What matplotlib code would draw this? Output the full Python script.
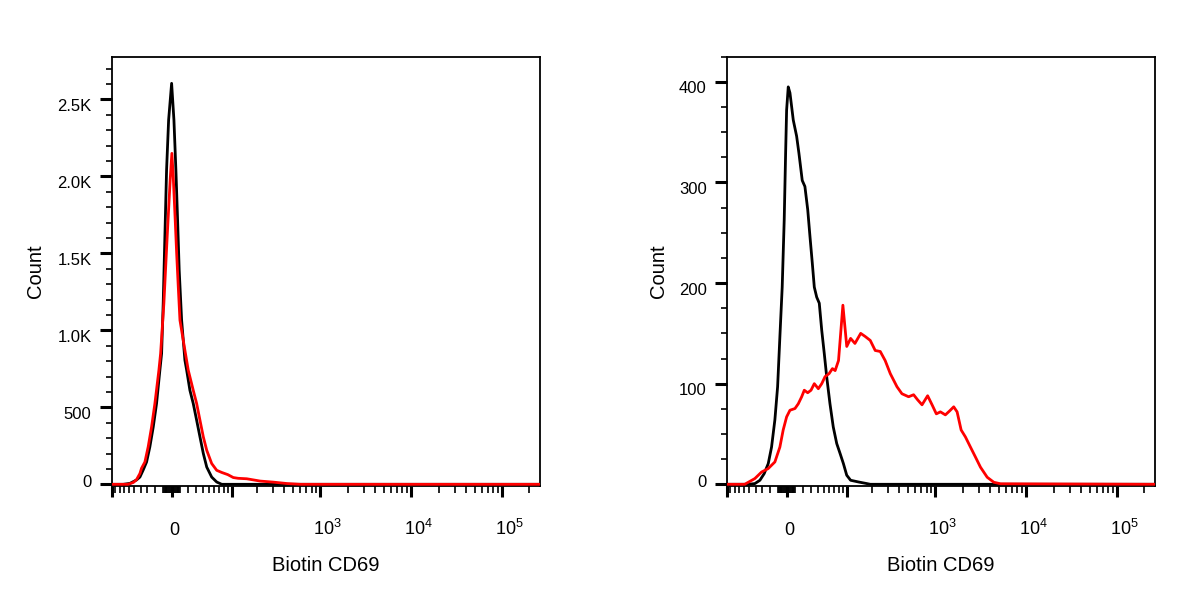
import numpy as np
import matplotlib
matplotlib.use("Agg")
import matplotlib.pyplot as plt
import matplotlib.transforms as mtransforms

plt.rcParams["font.family"] = ["Liberation Sans", "DejaVu Sans"]

# ---- data (fluorescence value, count) ----
left_black_x = [-100, -71.6, -58.2, -46.6, -41.1, -36.3, -31.2, -26.7, -22.2, -18.0,
                -13.9, -11.8, -9.9, -7.9, -5.9, -3.5, 0, 2.7, 5.0, 7.0,
                8.9, 11.8, 15.8, 18.0, 22.1, 26.5, 31.2, 36.0, 41.1, 46.6,
                55.2, 64.8, 75.5, 262144]
left_black_y = [0, 0, 6, 28, 47, 91, 145, 243, 373, 525,
                741, 850, 1175, 1608, 2042, 2367, 2605, 2367, 2042, 1717,
                1391, 1066, 806, 741, 611, 525, 416, 308, 200, 112,
                47, 15, 0, 0]

left_red_x = [-100, -61.8, -52.0, -46.6, -41.1, -38.6, -33.6, -29.0, -24.4, -20.1,
              -15.1, -13.0, -9.1, -5.2, -1.6, 0.3, 1.9, 4.2, 5.9, 7.8,
              9.8, 15.5, 20.0, 26.5, 31.2, 36.0, 41.1, 46.6, 55.2, 64.8,
              75.5, 90, 105, 120, 151, 215, 303, 427, 600, 262144]
left_red_y = [0, 0, 12, 30, 70, 104, 145, 243, 373, 525,
              741, 850, 1175, 1608, 1986, 2150, 1998, 1717, 1500, 1283,
              1066, 880, 741, 611, 525, 416, 308, 221, 135, 91,
              77, 63, 44, 39, 36, 21, 14, 5, 0, 0]

right_black_x = [-100, -52.0, -41.1, -33.6, -27.6, -22.2, -18.0, -13.9, -10.6, -7.87,
                 -5.16, -2.8, -1.17, 0, 1.9, 3.9, 7.8, 11.8, 14.6, 18.7,
                 22.1, 25.8, 28.9, 32.1, 35.0, 38.6, 42.6, 46.6, 50.9, 55.2,
                 61.4, 68, 75.5, 83.4, 91.6, 100.6, 112, 138.6, 173, 189,
                 262144]
right_black_y = [0, 0, 0.7, 4, 10.6, 20.6, 37, 64, 97, 147,
                 196, 263, 329, 372, 395, 389, 362, 346, 329, 302,
                 296, 273, 246, 220, 196, 186, 180, 153, 130, 107,
                 80, 57, 40.5, 30.5, 20.6, 9, 4, 2.3, 0.7, 0,
                 0]

right_red_x = [-100, -58.6, -41.2, -31.2, -22.3, -13.9, -7.9, -4.0, 0, 3.9,
               9.8, 13.8, 18.0, 21.3, 25.8, 30.3, 35.0, 41.1, 46.6, 52.3,
               59.7, 66.3, 72, 79.6, 90.3, 100.7, 112, 126, 147, 165,
               189, 215, 245, 278, 317, 376, 427, 506, 575, 636,
               712, 821, 919, 1024, 1135, 1288, 1437, 1592, 1734, 1921,
               2144, 2433, 2765, 3137, 3721, 4402, 5221, 262144]
right_red_y = [0, 0, 5.7, 12.2, 15.6, 22.2, 37, 54, 67, 73.6,
               75.3, 80, 87, 93.5, 91, 93.5, 100, 95, 100, 107,
               110, 115, 113, 123, 178, 137, 145, 140, 150, 147,
               143, 133, 132, 123, 110, 97, 90, 87, 89, 84,
               79, 88, 79, 70, 72, 69, 73, 77, 72, 54,
               47, 37, 27, 17, 7, 2, 0.5, 0]

x_major = [-100, 0, 100, 1000, 10000, 100000]
x_major_labels = ["", "0", "", r"$\mathregular{10^{3}}$",
                  r"$\mathregular{10^{4}}$", r"$\mathregular{10^{5}}$"]
x_minor = (list(range(-90, 0, 10)) + list(range(-9, 0)) + list(range(1, 10))
           + list(range(10, 100, 10)) + list(range(200, 1000, 100))
           + list(range(2000, 10000, 1000)) + list(range(20000, 100000, 10000))
           + [200000])

left_y_major = [0, 500, 1000, 1500, 2000, 2500]
left_y_labels = ["0", "500", "1.0K", "1.5K", "2.0K", "2.5K"]
left_y_minor = list(range(100, 2800, 100))
right_y_major = [0, 100, 200, 300, 400]
right_y_labels = ["0", "100", "200", "300", "400"]
right_y_minor = list(range(25, 426, 25))

W = 46.0


def fwd(x):
    return np.arcsinh(np.asarray(x, dtype=float) / W)


def inv(y):
    return W * np.sinh(np.asarray(y, dtype=float))


fig = plt.figure(figsize=(12, 6), dpi=100)


def px(dx, dy):
    return mtransforms.ScaledTranslation(dx / 100, dy / 100, fig.dpi_scale_trans)


def make_panel(left, bx, by, rx, ry, ylims, ymaj, ylab, ymin, ylabel_x):
    ax = fig.add_axes([left, 0.19, 0.3569, 0.7155])
    ax.set_xscale("function", functions=(fwd, inv))
    ax.plot(bx, by, color="black", lw=2.0, zorder=3)
    ax.plot(rx, ry, color="#ff0000", lw=2.0, zorder=4)
    ax.set_xlim(-100, 262144)
    ax.set_ylim(*ylims)
    for s in ax.spines.values():
        s.set_linewidth(1.3)

    ax.set_xticks(x_major, x_major_labels)
    ax.set_xticks(x_minor, minor=True)
    ax.set_yticks(ymaj, ylab)
    ax.set_yticks(ymin, minor=True)
    ax.tick_params(axis="x", which="major", direction="out", length=8, width=2.2,
                   pad=27.5, labelsize=13)
    ax.tick_params(axis="x", which="minor", direction="out", length=5, width=1.2)
    ax.tick_params(axis="y", which="major", direction="out", length=9, width=2.2,
                   pad=5.5, labelsize=12)
    ax.tick_params(axis="y", which="minor", direction="out", length=4.5, width=1.2)

    for lab in ax.get_xticklabels():
        lab.set_verticalalignment("baseline")
        shift = 2.5 if lab.get_text() == "0" else 7
        lab.set_transform(lab.get_transform() + px(shift, 0))
    for lab in ax.get_yticklabels():
        shift = 3.5 if lab.get_text() == "0" else -5.5
        lab.set_transform(lab.get_transform() + px(0, shift))

    ax.set_xlabel("Biotin CD69", fontsize=14.5)
    ax.xaxis.label.set_verticalalignment("center")
    ax.xaxis.set_label_coords(0.5, -0.186)
    ax.set_ylabel("Count", fontsize=14.5)
    ax.yaxis.label.set_verticalalignment("center")
    ax.yaxis.set_label_coords(ylabel_x, 0.5)
    return ax


make_panel(0.0931, left_black_x, left_black_y, left_red_x, left_red_y,
           (-11, 2778), left_y_major, left_y_labels, left_y_minor, -0.177)
make_panel(0.6056, right_black_x, right_black_y, right_red_x, right_red_y,
           (-1.7, 425), right_y_major, right_y_labels, right_y_minor, -0.160)

fig.savefig("out.png", dpi=100, facecolor="white")
